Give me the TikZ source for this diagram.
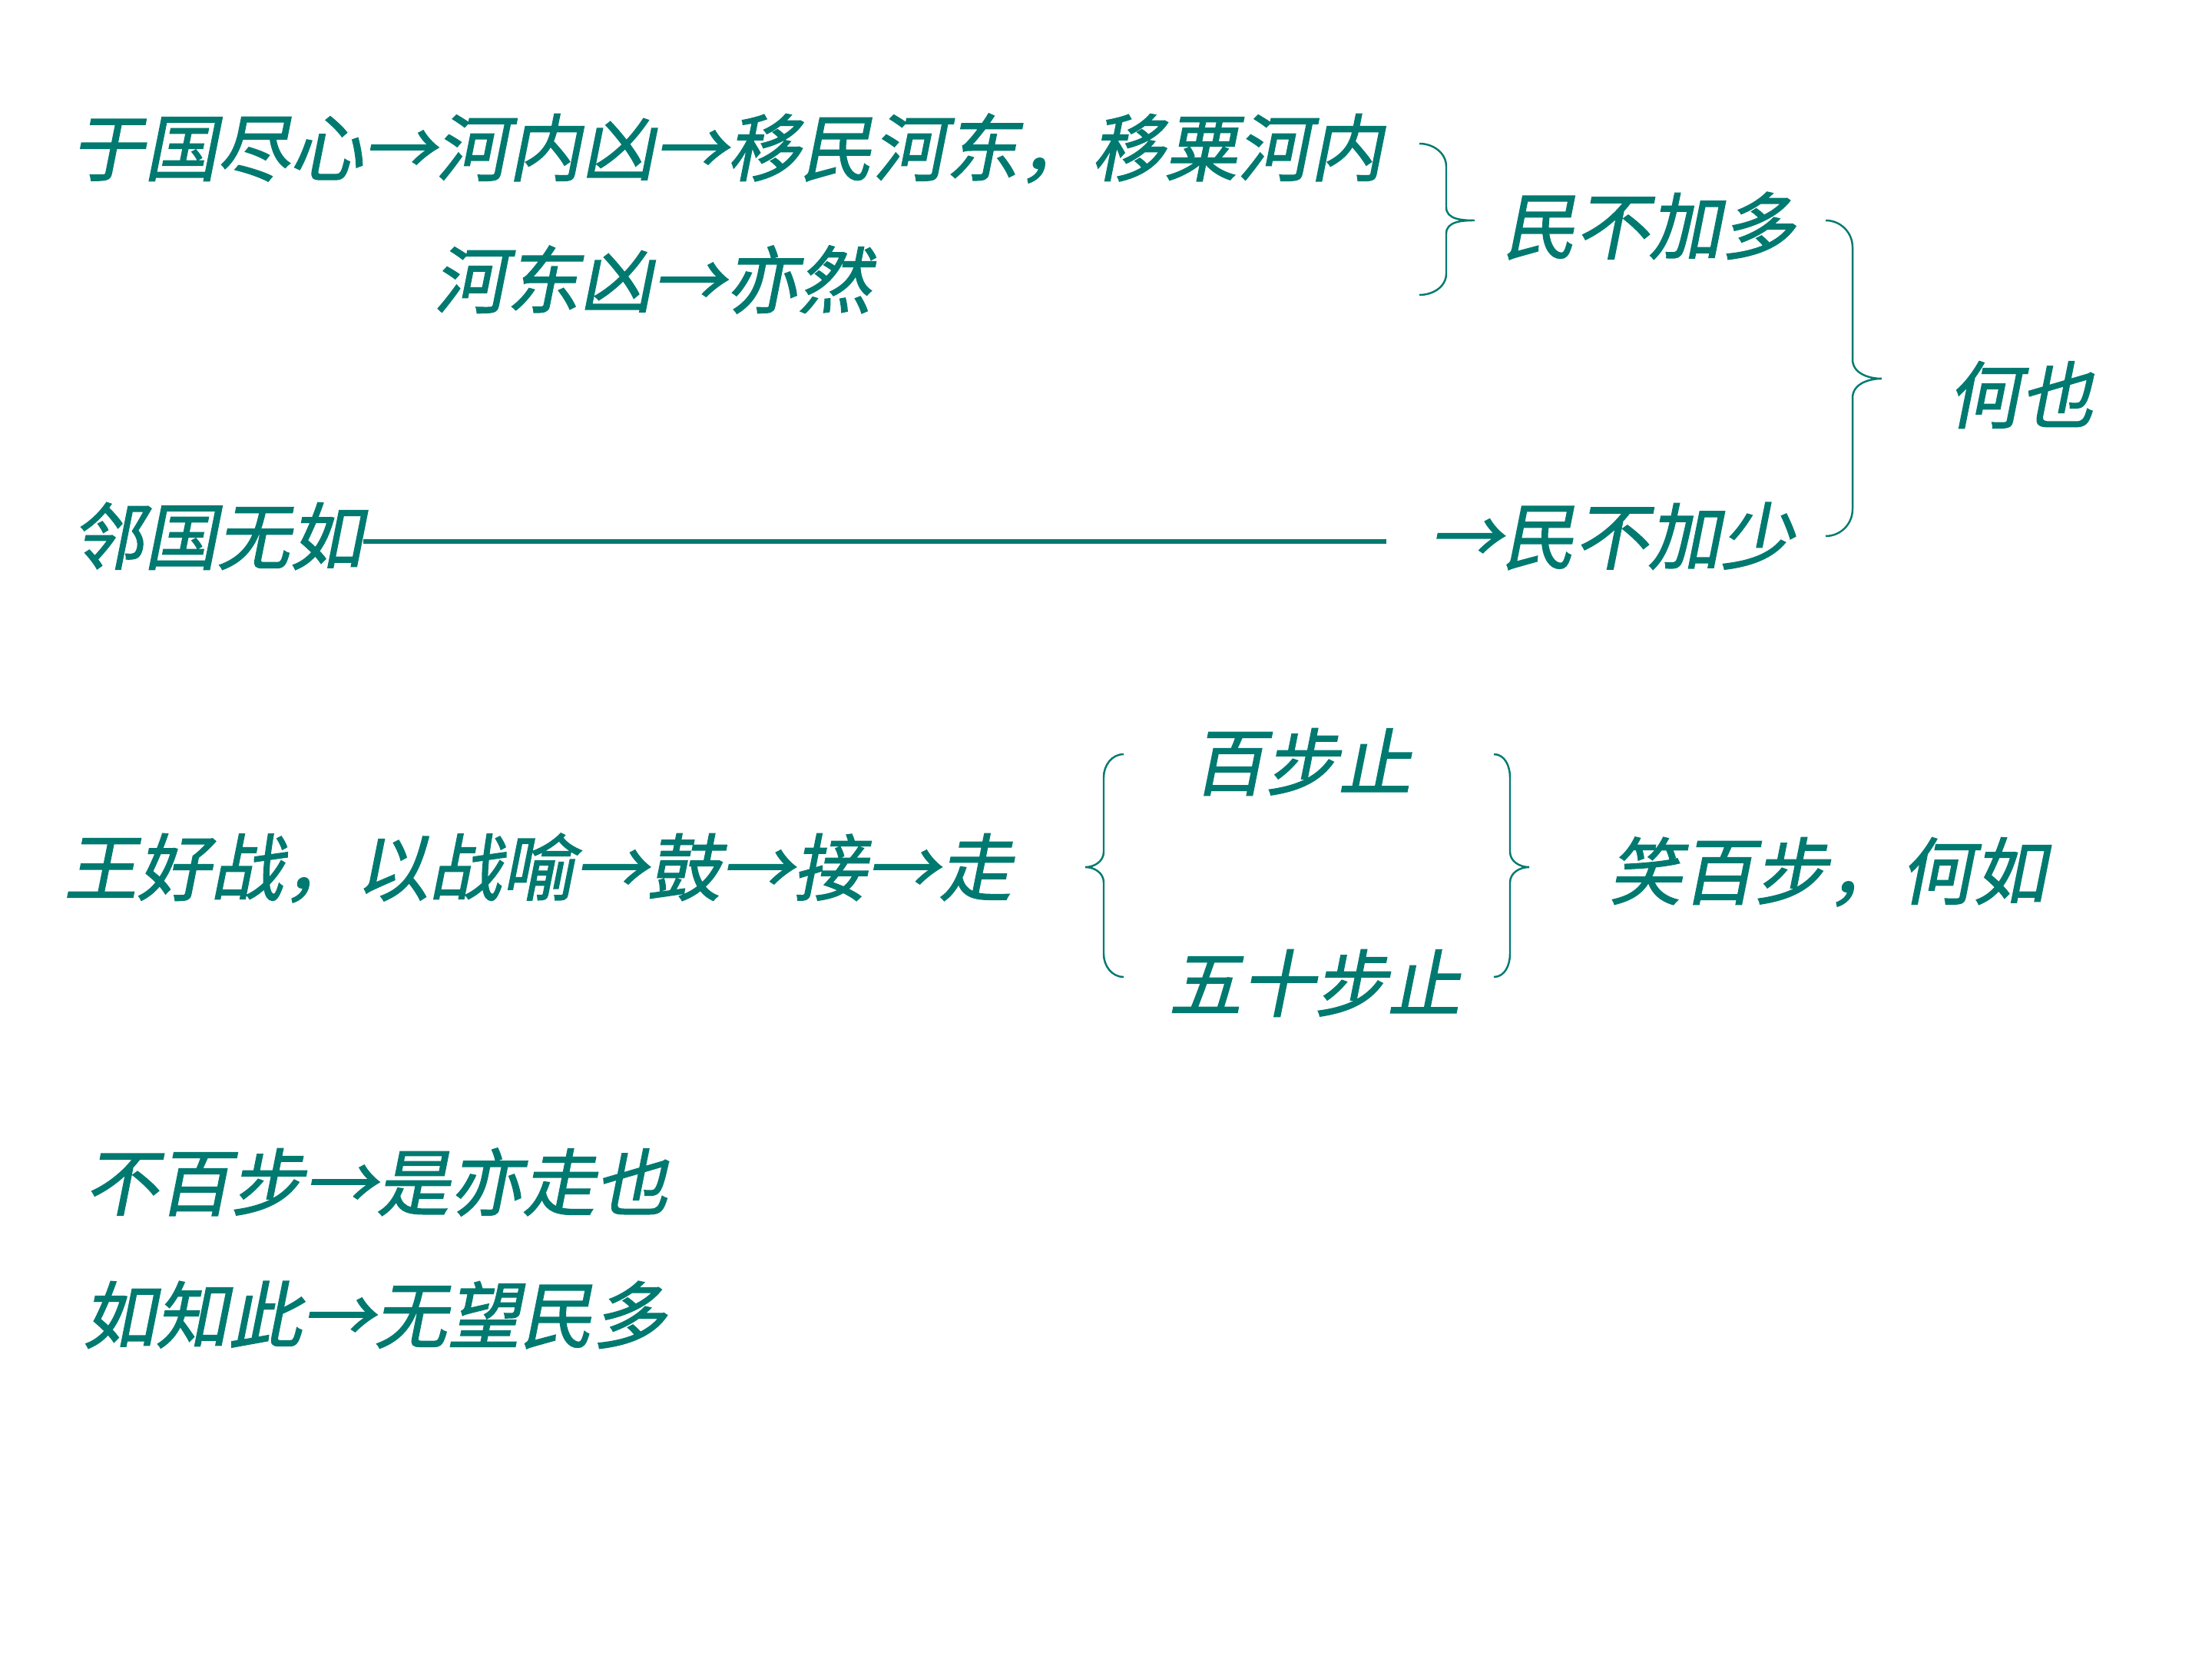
\documentclass[tikz,border=0pt]{standalone}
\usepackage{fontspec}
\newfontfamily\cjk[FakeSlant=0.2,FakeBold=1.5]{Noto Sans CJK SC}
\definecolor{tealx}{RGB}{0,122,112}
\begin{document}
\begin{tikzpicture}[
  txt/.style={font=\cjk\fontsize{27}{27}\selectfont, text=tealx, inner sep=0pt, anchor=west},
  br/.style={draw=tealx, line width=0.7pt},
  rule/.style={draw=tealx, line width=1.5pt}]
\useasboundingbox[fill=white] (0,0) rectangle (28.8,-21.6);
% section 1
\node[txt] (l1) at (0.92,-1.93) {于国尽心→河内凶→移民河东，移粟河内};
\node[txt] (l2) at (5.64,-3.64) {河东凶→亦然};
\node[txt] (duo) at (19.56,-2.94) {民不加多};
\node[txt] (heye) at (25.35,-5.14) {何也};
\node[txt] (lin) at (0.92,-6.98) {邻国无如};
\node[txt] (shao) at (18.60,-6.98) {→民不加少};
\coordinate (lineend) at (18.05,-7.05);
\draw[rule] (lin.east |- lineend) -- (lineend);
% brace 1
\draw[br] (18.48,-1.87) to[out=0,in=90] (18.83,-2.17) -- (18.83,-2.70) to[out=-90,in=180] (19.20,-2.87)
  to[out=180,in=90] (18.83,-3.04) -- (18.83,-3.56) to[out=-90,in=0] (18.48,-3.84);
% brace 2
\draw[br] (23.77,-2.87) to[out=0,in=90] (24.12,-3.22) -- (24.12,-4.68) to[out=-90,in=180] (24.50,-4.93)
  to[out=180,in=90] (24.12,-5.18) -- (24.12,-6.63) to[out=-90,in=0] (23.77,-6.98);
% section 2
\node[txt] (zhan) at (0.83,-11.30) {王好战，以战喻→鼓→接→走};
\node[txt] (bai) at (15.52,-9.92) {百步止};
\node[txt] (wushi) at (15.21,-12.80) {五十步止};
\node[txt] (xiao) at (20.94,-11.35) {笑百步，何如};
% left brace
\draw[br] (14.63,-9.82) to[out=180,in=90] (14.37,-10.12) -- (14.37,-11.09) to[out=-90,in=0] (14.13,-11.29)
  to[out=0,in=90] (14.37,-11.49) -- (14.37,-12.42) to[out=-90,in=180] (14.63,-12.72);
% right brace
\draw[br] (19.45,-9.82) to[out=0,in=90] (19.66,-10.12) -- (19.66,-11.09) to[out=-90,in=180] (19.91,-11.29)
  to[out=180,in=90] (19.66,-11.49) -- (19.66,-12.42) to[out=-90,in=0] (19.45,-12.72);
% section 3
\node[txt] (s3a) at (1.10,-15.39) {不百步→是亦走也};
\node[txt] (s3b) at (1.07,-17.12) {如知此→无望民多};
\end{tikzpicture}
\end{document}
